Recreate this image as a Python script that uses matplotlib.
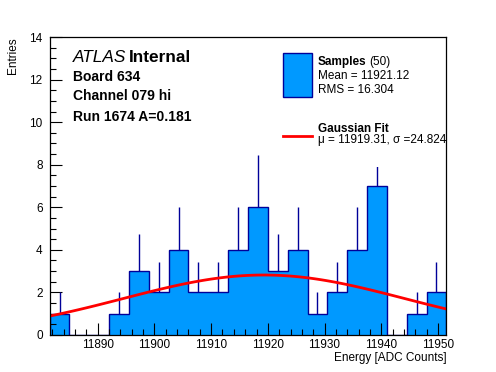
import numpy as np
import matplotlib.pyplot as plt
from matplotlib.patches import Rectangle
from matplotlib.lines import Line2D
from matplotlib.ticker import MultipleLocator

plt.rcParams['font.family'] = ['Liberation Sans', 'DejaVu Sans']

# histogram data (20 bins)
edges = np.linspace(11881.5, 11951.5, 21)
counts = [1, 0, 0, 1, 3, 2, 4, 2, 2, 4, 6, 3, 4, 1, 2, 4, 7, 0, 1, 2]

# fit parameters
fit_mu = 11919.31
fit_sigma = 24.824
n_samples = 50
mean_val = 11921.12
rms_val = 16.304

fill_col = '#0099ff'
line_col = '#000099'

W, H = 496, 372
fig = plt.figure(figsize=(W / 100, H / 100), dpi=100)
ax = fig.add_axes([0.1, 0.1, 0.8, 0.8])

counts = np.array(counts, dtype=float)
ax.stairs(counts, edges, fill=True, color=fill_col, baseline=0)
ax.stairs(counts, edges, fill=False, color=line_col, lw=1.0, baseline=0)

# upward error bars
centers = 0.5 * (edges[:-1] + edges[1:])
nz = counts > 0
ax.vlines(centers[nz], counts[nz], counts[nz] + np.sqrt(counts[nz]),
          color=line_col, lw=1.0)

# gaussian fit curve
amp = n_samples * (edges[1] - edges[0]) / (np.sqrt(2 * np.pi) * fit_sigma)
xf = np.linspace(edges[0] + 0.2, edges[-1] - 0.2, 100)
ax.plot(xf, amp * np.exp(-0.5 * ((xf - fit_mu) / fit_sigma) ** 2),
        color='red', lw=2)

ax.set_xlim(edges[0], edges[-1])
ax.set_ylim(0, 14)
ax.xaxis.set_major_locator(MultipleLocator(10))
ax.xaxis.set_minor_locator(MultipleLocator(2))
ax.yaxis.set_major_locator(MultipleLocator(2))
ax.yaxis.set_minor_locator(MultipleLocator(0.5))
ax.tick_params(which='both', direction='in', top=False, right=False,
               labelsize=8.5, width=0.8)
ax.tick_params(axis='x', which='major', length=8.6, pad=3)
ax.tick_params(axis='y', which='major', length=8.6, pad=5)
ax.tick_params(which='minor', length=4.3)
for s in ax.spines.values():
    s.set_linewidth(0.9)

ax.set_xlabel('Energy [ADC Counts]', fontsize=8.5, loc='right', labelpad=1)
ax.set_ylabel('Entries', fontsize=8.5, loc='top')
ax.yaxis.set_label_coords(-0.077, 1.0)


def fx(px):
    return px / W


def fy(py):
    return 1 - py / H


# white legend background hides what lies under it
ax.add_patch(Rectangle((fx(278), fy(167)), fx(446) - fx(278), fy(39) - fy(167),
                       transform=fig.transFigure, facecolor='white',
                       edgecolor='none', zorder=2.4))

# label block
fig.text(fx(73.3), fy(57.3), 'ATLAS', style='italic', fontsize=12.4, va='center')
fig.text(fx(128.5), fy(57.3), 'Internal', weight='bold', fontsize=12.4, va='center')
info = ['Board 634', 'Channel 079 hi', 'Run 1674 A=0.181']
for txt, py in zip(info, [76.7, 96.5, 116.7]):
    fig.text(fx(73.3), fy(py), txt, weight='bold', fontsize=10, va='center')

# legend
fig.add_artist(Rectangle((fx(283.3), fy(96.7)), fx(311.7) - fx(283.3),
                         fy(53.3) - fy(96.7), transform=fig.transFigure,
                         facecolor=fill_col, edgecolor=line_col, lw=1.0))
fig.text(fx(317.7), fy(61.7), 'Samples', weight='bold', fontsize=8.5, va='center')
fig.text(fx(369), fy(61.7), '(%d)' % n_samples, fontsize=8.5, va='center')
fig.text(fx(317.7), fy(76), 'Mean = %.2f' % mean_val, fontsize=8.5, va='center')
fig.text(fx(317.7), fy(90), 'RMS = %.3f' % rms_val, fontsize=8.5, va='center')

fig.add_artist(Line2D([fx(283.3), fx(311.7)], [fy(136), fy(136)],
                      transform=fig.transFigure, color='red', lw=2))
fig.text(fx(317.7), fy(129.3), 'Gaussian Fit', weight='bold', fontsize=8.5, va='center')
fig.text(fx(317.7), fy(140), '\u03bc = %.2f, \u03c3 =%.3f' % (fit_mu, fit_sigma),
         fontsize=8.5, va='center')

fig.savefig('out.png', dpi=100)
